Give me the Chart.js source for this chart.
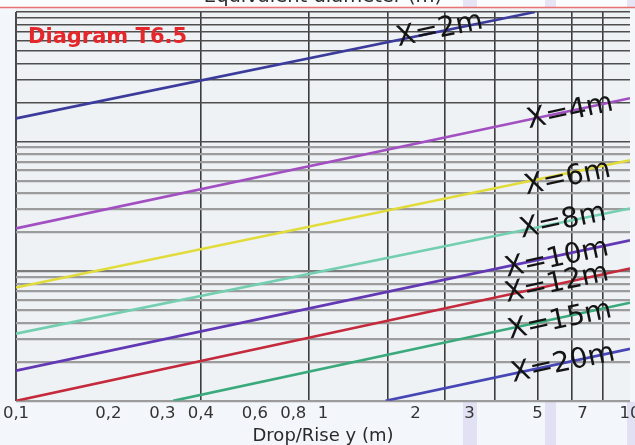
<!DOCTYPE html>
<html>
<head>
<meta charset="utf-8">
<script src="https://cdn.jsdelivr.net/npm/chart.js@4.4.1/dist/chart.umd.min.js"></script>
<style>
  html, body { margin: 0; padding: 0; background: #f3f6fa; }
  #wrap { width: 635px; height: 445px; position: relative; overflow: hidden; }
  canvas { display: block; }
</style>
</head>
<body>
<div id="wrap"><canvas id="c" width="635" height="445"></canvas></div>
<script>
// Drop/Rise y (m): printed tick values on the bottom axis and their labels
const dropRiseTicks  = [0.1, 0.2, 0.3, 0.4, 0.6, 0.8, 1, 2, 3, 5, 7, 10];
const dropRiseLabels = ['0,1', '0,2', '0,3', '0,4', '0,6', '0,8', '1', '2', '3', '5', '7', '10'];
// vertical rulings of the grid (drop/rise values)
const dropRiseRulings = [0.1, 0.4, 0.9, 1.62, 2.5, 3.63, 5, 6.47, 8.17];
// horizontal rulings: three log decades of equivalent diameter (m)
const diameterRulings = [
  0.1, 0.2, 0.3, 0.4, 0.5, 0.6, 0.7, 0.8, 0.9,
  1, 2, 3, 4, 5, 6, 7, 8, 9,
  10, 20, 30, 40, 50, 60, 70, 80, 90, 100
];

// curve names (distance X)
const seriesNames = ['X=2m', 'X=4m', 'X=6m', 'X=8m', 'X=10m', 'X=12m', 'X=15m', 'X=20m'];
// each curve: [drop/rise y, equivalent diameter] at both ends of the drawn line
const curveX2m  = [[0.1, 15.1], [4.9, 100]];
const curveX4m  = [[0.1, 2.14], [10, 21.6]];
const curveX6m  = [[0.1, 0.748], [10, 7.18]];
const curveX8m  = [[0.1, 0.330], [10, 3.05]];
const curveX10m = [[0.1, 0.171], [10, 1.73]];
const curveX12m = [[0.1, 0.100], [10, 1.05]];
const curveX15m = [[0.325, 0.100], [10, 0.572]];
const curveX20m = [[1.6, 0.100], [10, 0.252]];

const curves = [curveX2m, curveX4m, curveX6m, curveX8m, curveX10m, curveX12m, curveX15m, curveX20m];
const curveColors = ['#3b3b9c', '#a24fc2', '#e2dc3a', '#74cfb1', '#6238b4', '#c42a3c', '#3aaa7c', '#4646b4'];
// where each curve name is written (drop/rise, diameter)
const nameSpots = [[2.40, 72.6], [6.38, 16.9], [6.26, 5.21], [6.05, 2.42], [5.78, 1.25], [5.78, 0.80], [5.91, 0.415], [6.05, 0.193]];

const xTickSet = Array.from(new Set([...dropRiseTicks, ...dropRiseRulings])).sort((a, b) => a - b);
const same = (a, b) => Math.abs(a - b) < 1e-9;
const labelFor = v => {
  const i = dropRiseTicks.findIndex(t => same(t, v));
  return i >= 0 ? dropRiseLabels[i] : '';
};
const isRuling = v => dropRiseRulings.some(t => same(t, v));

const decor = {
  id: 'decor',
  beforeDraw(chart) {
    const { ctx, chartArea: a, width, height } = chart;
    ctx.save();
    ctx.fillStyle = '#f3f6fb';
    ctx.fillRect(0, 0, width, height);
    ctx.fillStyle = '#fbfcfd';
    ctx.fillRect(0, 0, width, 7);
    // faint lavender bands of the printed sheet
    ctx.fillStyle = 'rgba(196,186,228,0.35)';
    [[463, 14], [545, 11], [627, 8]].forEach(([x, w]) => {
      ctx.fillRect(x, 0, w, 7);
      ctx.fillRect(x, a.bottom + 1, w, height - a.bottom);
    });
    ctx.fillStyle = '#eef2f4';
    ctx.fillRect(a.left, a.top - 4, a.right - a.left, a.bottom - a.top + 4);
    ctx.restore();
  },
  afterDatasetsDraw(chart) {
    const { ctx, scales } = chart;
    ctx.save();
    ctx.font = '28px "DejaVu Sans"';
    ctx.textAlign = 'center';
    ctx.textBaseline = 'middle';
    ctx.fillStyle = '#141414';
    seriesNames.forEach((name, i) => {
      const px = scales.x.getPixelForValue(nameSpots[i][0]);
      const py = scales.y.getPixelForValue(nameSpots[i][1]);
      ctx.save();
      ctx.translate(px, py);
      ctx.rotate(-12 * Math.PI / 180);
      ctx.fillText(name, 0, 0);
      ctx.restore();
    });
    ctx.restore();
  },
  afterDraw(chart) {
    const { ctx, width } = chart;
    ctx.save();
    // heading of the sheet, running off the top edge
    ctx.font = '19.5px "DejaVu Sans"';
    ctx.fillStyle = '#2a2a2a';
    ctx.textAlign = 'center';
    ctx.textBaseline = 'alphabetic';
    ctx.fillText('Equivalent diameter (m)', 323, 2);
    ctx.strokeStyle = '#e97272';
    ctx.lineWidth = 1.5;
    ctx.beginPath();
    ctx.moveTo(0, 7.5);
    ctx.lineTo(width, 7.5);
    ctx.stroke();
    // diagram tag
    ctx.font = 'bold 21px "DejaVu Sans"';
    ctx.fillStyle = '#e5262b';
    ctx.textAlign = 'left';
    ctx.textBaseline = 'alphabetic';
    ctx.fillText('Diagram T6.5', 28, 43);
    ctx.restore();
  }
};

new Chart(document.getElementById('c'), {
  type: 'line',
  data: {
    datasets: curves.map((pts, i) => ({
      label: seriesNames[i],
      data: pts.map(([x, y]) => ({ x, y })),
      borderColor: curveColors[i],
      borderWidth: 2.6,
      pointRadius: 0,
      tension: 0,
      fill: false
    }))
  },
  options: {
    responsive: false,
    animation: false,
    devicePixelRatio: 1,
    layout: { padding: { left: 16, right: 5, top: 12, bottom: 0 } },
    plugins: { legend: { display: false }, tooltip: { enabled: false }, title: { display: false } },
    scales: {
      x: {
        type: 'logarithmic',
        min: 0.1,
        max: 10,
        afterBuildTicks: s => { s.ticks = xTickSet.map(v => ({ value: v })); },
        afterFit: s => { s.paddingLeft = 0; s.paddingRight = 0; },
        border: { display: false },
        grid: {
          drawTicks: false,
          color: c => isRuling(c.tick.value) ? (same(c.tick.value, 0.1) ? '#4a4a4a' : '#3c3c3c') : 'rgba(0,0,0,0)',
          lineWidth: c => same(c.tick.value, 0.1) ? 2 : 1.6
        },
        ticks: {
          autoSkip: false,
          maxRotation: 0,
          minRotation: 0,
          padding: 4,
          color: '#333',
          font: { family: 'DejaVu Sans', size: 16.5, lineHeight: 1.1 },
          callback: v => labelFor(v)
        },
        title: {
          display: true,
          text: 'Drop/Rise y (m)',
          color: '#2a2a2a',
          font: { family: 'DejaVu Sans', size: 18, lineHeight: 1.0 },
          padding: { top: 0, bottom: 0 }
        }
      },
      y: {
        type: 'logarithmic',
        min: 0.1,
        max: 100,
        afterBuildTicks: s => { s.ticks = diameterRulings.map(v => ({ value: v })); },
        border: { display: false },
        grid: {
          drawTicks: false,
          color: c => c.tick.value >= 10 - 1e-9 ? '#4e4e4e' : (same(c.tick.value, 1) ? '#7c7c7c' : '#9c9c9c'),
          lineWidth: c => c.tick.value >= 10 - 1e-9 ? 1.5 : 2.2
        },
        ticks: { display: false }
      }
    }
  },
  plugins: [decor]
});
</script>
</body>
</html>
